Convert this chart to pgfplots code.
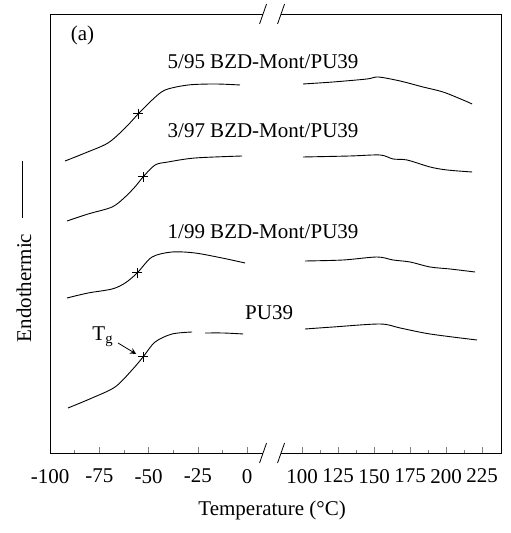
\documentclass[border=0pt]{standalone}
\usepackage{fontspec}
\setmainfont{Liberation Serif}
\usepackage{pgfplots}
\pgfplotsset{compat=1.18}
\usetikzlibrary{calc}

\pgfplotsset{
  dsc/.style={
    scale only axis, height=219.5pt, ymin=0, ymax=439, ytick=\empty,
    axis line style={draw=none}, xtick pos=left, tick align=inside,
    major tick length=3pt, minor tick length=1.5pt,
    clip=false, xticklabel style={yshift=-4.5pt},
  },
  curve/.style={black, line width=0.45pt, smooth, tension=0.5},
  tg/.style={black, only marks, mark=+, mark size=2.5pt, line width=0.5pt},
}

\begin{document}
\begin{tikzpicture}[font=\fontsize{10.5}{12.6}\selectfont]
% left part, -100 .. 0
\begin{axis}[dsc, at={(0,0)}, anchor=south west, width=106.5pt,
  xmin=-100, xmax=8.1,
  xtick={-100,-75,-50,-25,0}, xticklabels={-100,-75,-50,-25,0},
  minor xtick={-87.5,-62.5,-37.5,-12.5}]
\addplot[curve] coordinates {(-92.4,292) (-82.2,300) (-70.6,310) (-61.9,325) (-55.3,339) (-48.2,353) (-41.6,363) (-29.9,368) (-16.2,369) (-3.6,368)};
\addplot[curve] coordinates {(-91.4,232) (-80.7,239) (-68.5,246) (-61.9,256) (-56.5,267) (-52.8,276) (-46.7,288) (-40.1,291) (-26.4,295) (-2.5,297)};
\addplot[curve] coordinates {(-91.4,155) (-80.7,160) (-68.5,164) (-61.9,170) (-55.8,180) (-48.2,196) (-38.1,201) (-26.4,200) (-12.7,195) (-1.0,190)};
\addplot[curve] coordinates {(-90.9,45) (-78.7,55) (-67.0,66) (-58.4,83) (-52.8,96) (-46.7,111) (-38.1,119) (-27.9,121)};
\addplot[curve] coordinates {(-21.3,120) (-12,120) (-2.0,119)};
\addplot[tg] coordinates {(-55.3,339) (-52.8,276) (-55.8,180) (-52.8,96)};
\draw (rel axis cs:1,1) -- (rel axis cs:0,1) -- (rel axis cs:0,0) -- (rel axis cs:1,0);
\draw ($(rel axis cs:1,1)+(-1.75pt,-5pt)$) -- ++(3.5pt,10pt);
\draw ($(rel axis cs:1,0)+(-1.75pt,-5pt)$) -- ++(3.5pt,10pt);
\node[anchor=west] at (axis cs:-93,418) {(a)};
\node at (axis cs:8.1,391) {5/95 BZD-Mont/PU39};
\node at (axis cs:8.1,322) {3/97 BZD-Mont/PU39};
\node at (axis cs:8.1,221) {1/99 BZD-Mont/PU39};
\node at (axis cs:11.2,140) {PU39};
\node at (axis cs:-73.1,116) {T\textsubscript{g}};
\draw[-stealth] (axis cs:-65.5,110) -- (axis cs:-56.3,99);
\node[rotate=90, anchor=base] at (axis cs:-109.6,201.5) {Endothermic\hspace{8pt}\rule[0.4em]{28.5pt}{0.5pt}};
\node at (axis cs:12.7,-57) {Temperature (°C)};
\path (axis cs:-125.4,-80) rectangle (axis cs:133.5,453);
\end{axis}
% right part, 100 .. 225
\begin{axis}[dsc, at={(115.5pt,0)}, anchor=south west, width=110pt,
  xmin=85.4, xmax=238.2,
  xtick={100,125,150,175,200,225}, xticklabels={100,125,150,175,200,225},
  minor xtick={112.5,137.5,162.5,187.5,212.5}]
\addplot[curve] coordinates {(100.7,369) (121.5,371) (145.1,374) (152.8,376) (168.1,372) (184.0,366) (197.9,361) (211.8,353) (218.1,349)};
\addplot[curve] coordinates {(100.7,296) (133.3,297) (154.2,298) (163.2,294) (172.9,293) (188.9,286) (200.7,283) (218.1,281)};
\addplot[curve] coordinates {(102.1,192) (128.5,193) (152.1,196) (163.2,193) (175.0,191) (188.9,186) (202.8,184) (220.1,181)};
\addplot[curve] coordinates {(102.1,124) (121.5,126) (154.2,129) (168.1,125) (188.9,119) (221.5,113)};
\draw (rel axis cs:0,1) -- (rel axis cs:1,1) -- (rel axis cs:1,0) -- (rel axis cs:0,0);
\draw ($(rel axis cs:0,1)+(-1.75pt,-5pt)$) -- ++(3.5pt,10pt);
\draw ($(rel axis cs:0,0)+(-1.75pt,-5pt)$) -- ++(3.5pt,10pt);
\end{axis}
\end{tikzpicture}
\end{document}
